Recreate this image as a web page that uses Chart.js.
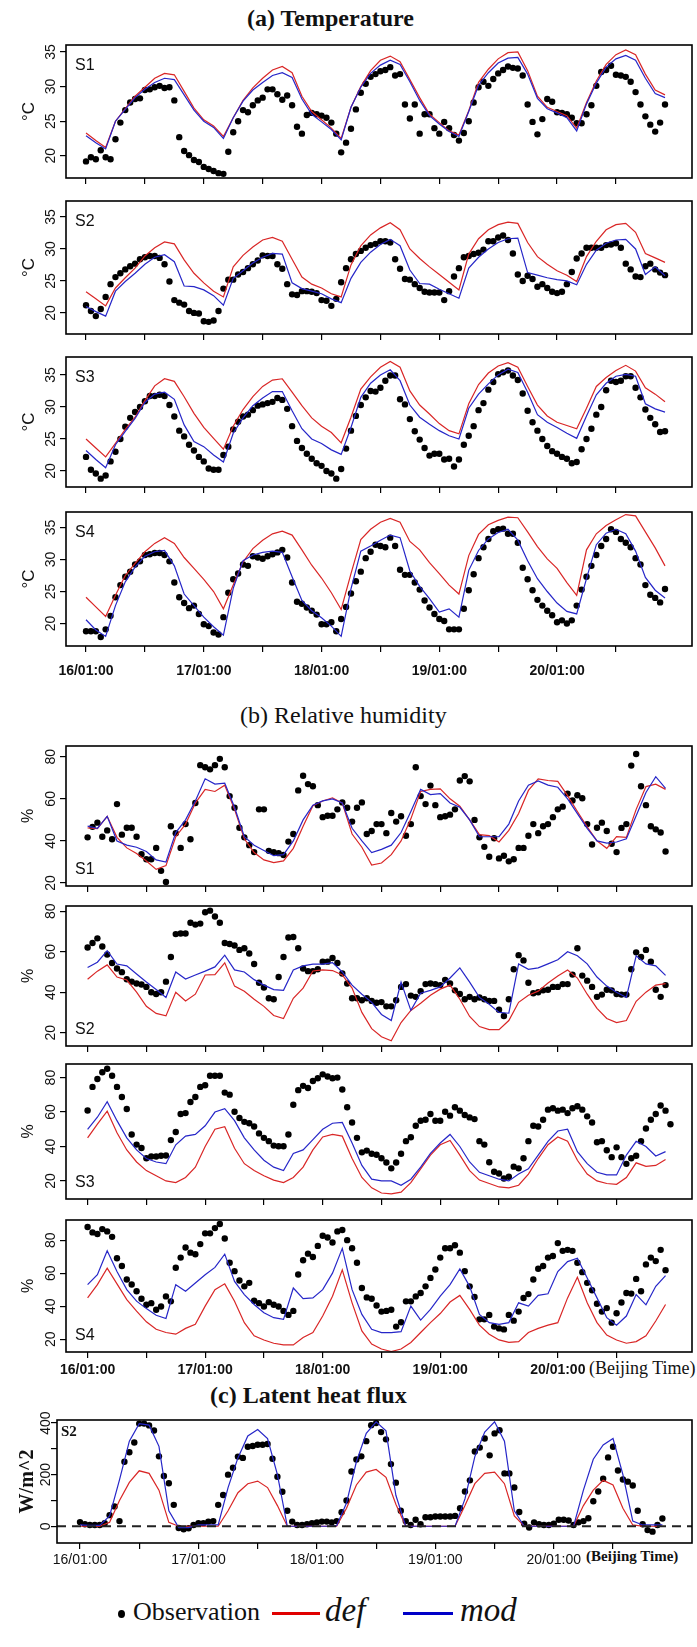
<!DOCTYPE html>
<html>
<head>
<meta charset="utf-8">
<script src="https://cdn.jsdelivr.net/npm/chart.js@4.4.0/dist/chart.umd.min.js"></script>
<style>
body { margin: 0; background: #fff; }
#page { position: relative; width: 697px; height: 1647px; background: #fff; overflow: hidden; }
#page canvas { position: absolute; left: 0; }
.title { position: absolute; font-family: "Liberation Serif", "Times New Roman", serif; color: #111; white-space: nowrap; }
.note { position: absolute; font-family: "Liberation Serif", "Times New Roman", serif; color: #111; white-space: nowrap; }
.lg { position: absolute; font-family: "Liberation Serif", "Times New Roman", serif; color: #111; white-space: nowrap; }
</style>
</head>
<body>
<div id="page">
  <div class="title" style="left:247px;top:5px;font-size:24px;font-weight:bold">(a) Temperature</div>
  <div class="title" style="left:240px;top:702px;font-size:24px">(b) Relative humidity</div>
  <div class="title" style="left:210px;top:1382px;font-size:24px;font-weight:bold">(c) Latent heat flux</div>
  <div class="note" style="left:589px;top:1358px;font-size:18px">(Beijing Time)</div>
  <div class="note" style="left:586px;top:1548px;font-size:15px;font-weight:bold">(Beijing Time)</div>

  <div class="lg" style="left:118px;top:1610px;width:7px;height:8px;border-radius:50%;background:#000"></div>
  <div class="lg" style="left:133px;top:1597px;font-size:26px">Observation</div>
  <div class="lg" style="left:272px;top:1612px;width:48px;height:3px;background:#e00000"></div>
  <div class="lg" style="left:325px;top:1592px;font-size:33px;font-style:italic">def</div>
  <div class="lg" style="left:403px;top:1612px;width:50px;height:3px;background:#0000c8"></div>
  <div class="lg" style="left:460px;top:1592px;font-size:33px;font-style:italic">mod</div>
</div>
<script>
// time axis: hours after 16/01:00, obs hourly, model lines every 2 h
const X_TICKS = [0, 12, 24, 36, 48, 60, 72, 84, 96, 108];
const X_LABEL_HOURS = [0, 24, 48, 72, 96];
const X_LABELS = ['16/01:00', '17/01:00', '18/01:00', '19/01:00', '20/01:00'];

const T_TICKS = [20, 25, 30, 35];
const RH_TICKS = [20, 40, 60, 80];
const LH_TICKS = [0, 100, 200, 300, 400];
const LH_TICK_LABELS = [0, 200, 400];

// (a) temperature
const T1_OBS = [19.2,19.8,19.5,20.8,19.8,19.5,22.4,24.8,26.6,27.7,28.2,28.3,29.5,29.6,29.9,30.1,29.8,29.9,28.0,22.7,20.7,20.1,19.4,19.1,18.4,18.1,17.8,17.5,17.4,
  20.6,23.4,25.0,26.6,26.3,27.3,28.0,28.4,29.6,29.6,28.9,28.1,28.7,27.3,24.2,23.2,25.9,26.2,26.0,25.8,25.5,24.8,23.2,
  20.5,21.9,23.9,26.7,29.1,30.4,31.4,31.8,32.2,32.4,32.8,31.6,31.8,27.4,25.4,27.4,23.2,26.0,26.0,24.0,23.2,24.9,24.0,23.0,22.2,23.3,25.0,27.7,29.9,30.7,30.1,31.1,31.9,32.4,32.9,32.7,32.6,31.6,27.4,24.9,23.1,25.3,28.2,27.8,26.3,26.2,26.0,25.5,24.7,24.7,26.0,27.3,30.1,32.1,32.4,33.0,31.7,31.6,31.4,30.7,29.2,27.4,25.7,24.5,23.5,24.8,27.4];
const T1_DEF = [23.3,22.2,21.2,25.0,26.8,28.6,29.9,31.2,31.9,31.7,29.3,26.9,25.2,24.3,22.8,25.5,28.0,29.8,31.2,32.4,32.9,32.0,28.6,26.4,25.2,24.0,22.5,27.0,30.0,32.3,33.8,34.4,33.6,31.0,28.4,26.0,24.8,23.6,23.0,26.5,30.6,32.5,34.0,34.9,35.0,32.3,28.6,27.0,26.4,25.8,24.0,27.7,30.8,33.2,34.6,35.3,34.6,31.8,29.5,28.8];
const T1_MOD = [22.9,21.9,21.0,25.0,26.7,28.4,29.6,30.6,31.2,31.0,28.8,26.6,25.0,24.1,22.5,25.5,27.9,29.5,30.6,31.6,32.0,31.3,28.2,26.0,24.9,23.8,22.3,27.0,29.9,31.9,33.1,33.8,33.2,30.7,28.0,25.8,24.6,23.5,22.8,26.4,30.2,32.0,33.4,34.1,34.2,31.8,28.3,26.8,26.2,25.5,23.6,27.5,30.5,32.8,34.0,34.5,33.8,31.2,29.0,28.4];

const T2_OBS = [21.2,20.3,19.5,20.6,22.5,24.5,25.6,26.2,26.8,27.3,27.7,28.4,28.7,28.9,28.9,28.6,27.6,24.9,22.0,21.6,21.3,20.3,20.0,19.9,18.7,18.6,18.8,20.3,23.8,25.2,
  25.2,26.0,26.4,27.0,27.6,28.2,29.0,28.9,28.9,27.6,26.9,24.5,22.9,22.8,23.4,23.4,23.3,23.1,22.0,21.9,21.1,22.2,24.8,27.0,28.4,29.2,29.7,30.2,30.6,30.8,
  31.2,31.2,31.0,28.4,26.9,25.3,25.2,24.5,23.9,23.3,23.2,23.2,23.2,22.0,23.4,25.7,27.0,28.7,28.9,29.2,29.4,29.9,31.2,31.2,31.8,32.1,31.4,29.3,26.0,25.0,
  25.8,25.3,24.1,24.5,23.9,23.3,23.1,23.3,24.5,26.4,28.5,29.3,30.2,30.2,30.2,30.2,30.6,30.7,30.9,30.2,27.7,26.8,25.7,25.6,27.3,27.7,26.8,26.3,25.9];
const T2_DEF = [23.3,22.2,21.1,23.9,25.5,27.0,28.9,30.2,31.1,30.8,28.3,26.2,24.7,23.4,22.5,27.2,29.0,30.3,31.4,31.8,31.2,28.4,25.6,24.5,23.9,23.0,22.5,27.5,30.5,32.2,33.3,34.1,33.0,30.0,28.5,27.2,26.0,24.8,23.6,29.2,31.6,33.0,33.8,34.2,34.0,31.0,28.8,27.6,26.6,25.9,24.9,28.8,31.2,33.0,33.8,34.0,32.6,29.3,28.6,27.9];
const T2_MOD = [21.0,20.2,19.5,23.4,24.9,26.2,27.6,28.7,29.1,28.0,24.2,24.1,23.6,22.7,21.2,25.4,26.6,27.8,28.7,29.3,29.2,24.7,23.8,23.4,23.0,22.2,21.6,25.4,27.9,29.5,30.7,31.5,30.5,26.7,24.6,24.5,23.7,23.0,22.3,27.0,28.7,30.0,31.0,31.6,31.7,26.3,25.9,25.5,25.2,25.0,24.4,27.6,29.8,30.9,31.4,31.5,30.0,26.0,27.2,25.8];

const T3_OBS = [22.2,20.2,19.6,18.8,19.3,21.5,23.0,25.0,26.9,28.3,29.2,30.0,30.9,31.7,31.7,31.9,31.7,30.3,28.5,26.3,25.4,24.1,23.2,22.2,21.5,20.4,20.2,20.2,22.5,23.8,
  26.5,27.7,28.5,28.8,29.5,30.2,30.4,30.6,30.8,31.4,31.1,29.7,27.0,24.7,23.6,22.7,21.9,21.2,20.8,20.0,19.6,18.8,20.3,23.5,26.3,28.6,30.3,31.5,32.5,32.4,
  33.0,34.1,34.9,34.9,31.2,30.4,28.1,26.2,24.9,23.6,22.4,22.7,22.7,21.8,21.9,20.7,21.8,24.1,25.5,27.0,29.5,30.6,32.7,33.9,35.1,35.4,35.7,34.9,34.2,32.1,
  29.4,27.6,26.3,25.0,23.9,23.1,22.7,22.2,21.9,21.2,21.4,23.4,25.0,26.6,28.8,30.0,32.6,34.1,33.9,34.1,34.8,34.8,33.0,31.5,29.6,28.3,27.3,26.1,26.2];
const T3_DEF = [25.0,23.6,22.2,24.3,26.5,28.4,31.0,33.3,34.4,34.0,31.6,29.0,26.8,25.1,23.4,27.0,29.6,31.6,33.2,34.2,34.4,32.3,30.2,28.3,27.0,26.0,24.4,28.4,32.8,34.7,36.2,37.1,36.2,32.5,30.3,28.9,27.4,26.3,25.8,30.5,33.5,35.3,36.4,36.9,36.2,33.2,30.3,28.6,27.6,27.1,26.6,29.8,33.2,34.6,35.7,36.5,35.6,33.0,32.0,30.8];
const T3_MOD = [23.2,21.8,20.5,24.1,26.2,28.2,30.7,32.0,32.3,31.2,27.2,24.6,23.8,22.5,21.4,25.9,28.3,30.2,31.4,32.4,32.4,29.4,26.6,25.0,24.3,23.3,22.6,26.8,31.5,33.7,35.0,35.8,34.1,30.3,28.4,27.3,26.3,25.5,25.0,29.8,32.0,33.6,35.0,35.9,35.4,32.3,28.8,27.6,26.8,25.9,25.1,28.6,31.9,33.7,34.8,35.1,34.8,30.5,29.7,29.2];

const T4_OBS = [18.8,18.8,18.8,17.9,19.1,21.2,24.1,26.0,27.3,28.1,29.2,29.7,30.7,30.8,31.0,31.0,30.7,29.7,26.4,24.1,23.2,22.4,22.8,21.5,19.9,19.6,18.6,18.3,21.0,24.8,
  26.9,27.8,29.2,29.0,30.5,30.3,30.1,30.5,30.8,31.1,31.5,30.3,26.4,23.4,23.1,22.5,22.0,21.4,19.9,19.9,20.2,18.8,20.7,22.6,24.7,26.6,28.1,30.2,31.2,32.3,
  32.1,31.9,33.4,32.1,28.4,27.6,27.6,26.4,25.3,23.6,22.5,21.5,20.7,20.4,19.1,19.1,19.1,22.3,25.2,27.7,30.2,31.9,33.2,34.4,34.7,34.8,34.0,34.0,32.6,28.7,
  26.9,25.2,23.7,22.8,22.0,21.3,20.2,20.5,20.0,20.5,22.8,25.3,27.3,29.0,30.7,32.1,33.2,34.7,34.3,33.2,32.6,31.9,30.2,29.2,26.0,24.5,24.0,23.3,25.4];
const T4_DEF = [24.1,22.6,21.1,24.4,27.5,29.4,31.2,32.5,33.4,32.5,30.3,28.6,26.9,25.0,22.3,26.0,29.6,31.7,33.0,34.0,34.4,33.8,31.5,29.1,27.1,24.8,22.2,27.8,33.1,34.7,35.8,36.4,35.8,32.8,31.5,29.5,27.8,26.0,24.6,30.6,33.9,35.4,36.1,36.6,36.5,34.3,32.0,30.1,28.6,26.4,24.4,31.5,34.0,35.3,36.2,37.0,36.8,34.3,31.8,29.0];
const T4_MOD = [20.6,19.0,18.0,22.8,26.5,28.8,30.5,31.2,31.4,29.0,24.6,22.8,21.0,19.5,18.2,25.5,29.8,30.7,31.1,31.3,31.1,27.3,23.6,22.0,20.9,19.6,18.0,25.4,31.3,32.1,33.0,33.8,33.4,28.2,25.8,23.9,21.8,22.3,21.0,28.3,31.4,33.2,34.2,34.7,33.0,29.8,27.0,25.0,23.2,21.9,21.5,27.0,32.3,34.1,34.7,34.0,31.3,27.2,25.2,24.0];

// (b) relative humidity
const RH1_OBS = [41.7,46.7,48.7,42.0,45.0,40.8,57.5,43.0,46.3,46.3,42.0,33.7,31.3,31.3,36.7,25.8,20.5,47.0,43.7,36.7,48.0,40.8,58.0,
  76,75,74,76,79,75,61.3,55.8,46.3,41.7,38.0,34.7,55.0,55.0,35.3,34.7,34.2,33.3,39.7,43.3,64,71,67,66,57,
  51.3,52.0,52.0,55.0,58.3,55.8,49.2,55.8,58.3,43.3,44.7,48.0,48.0,43.7,53.3,49.2,51.7,42.5,48.0,75.0,61.3,57.5,66.3,57.0,51.3,51.7,52.5,55.0,68.7,70.8,68.3,50.0,
  41.7,37.2,32.5,41.3,31.7,33.0,30.3,31.3,36.7,36.7,42.5,48.0,43.7,47.0,48.0,51.3,55.0,56.3,62.5,59.2,61.7,60.3,48.0,38.3,46.3,48.7,44.7,38.7,34.7,46.2,48.0,75.8,81.3,66.0,57.0,47.0,45.5,44.0,35.0];
const RH1_DEF = [46.2,45.8,51.7,41.7,36.7,34.0,30.5,26.5,28.3,42.0,48.0,58.0,64.5,63.5,66.5,55.0,41.0,34.5,31.0,29.7,30.5,36.5,47.0,56.7,59.0,60.5,58.0,43.3,37.0,28.5,29.5,33.5,40.0,50.5,63.5,64.5,64.7,60.0,56.5,50.0,43.0,42.5,39.5,45.0,53.0,64.0,69.5,68.7,68.3,61.5,54.0,46.7,40.0,36.5,42.0,41.7,55.0,65.8,67.0,64.5];
const RH1_MOD = [47.0,46.0,51.7,40.0,38.0,37.0,35.0,31.0,30.0,44.0,50.0,59.0,69.5,67.0,67.5,56.0,42.0,38.0,35.5,33.0,33.5,40.0,50.0,57.0,59.0,60.0,58.0,46.0,40.0,34.5,36.0,38.0,44.0,54.0,64.5,62.0,62.5,58.0,56.0,50.0,42.0,42.0,42.0,48.0,59.0,66.5,68.5,66.5,65.5,60.0,53.0,46.0,40.0,39.0,39.5,41.0,52.0,63.0,70.5,65.0];

const RH2_OBS = [62.1,64.3,66.6,62.6,58.6,54.4,51.7,49.9,46.4,45.2,44.3,43.8,42.6,40.0,39.1,40.0,45.2,57.4,68.7,69.0,69.0,74.3,73.4,73.9,79.5,80.3,77.4,74.3,64.3,63.8,
  63.1,60.9,61.7,59.1,53.9,44.7,42.3,37.0,36.5,47.5,57.4,67.0,67.3,61.7,51.7,50.4,50.4,51.3,55.1,55.1,56.9,54.4,49.2,44.3,37.0,37.0,36.0,37.0,35.7,34.8,
  35.1,33.0,33.0,36.0,42.6,44.0,38.3,37.7,40.5,44.0,44.3,44.0,43.5,46.1,44.3,40.9,39.1,36.5,37.7,36.5,37.4,36.5,35.7,35.7,31.3,28.2,36.5,51.3,58.3,55.7,
  44.7,39.5,40.0,40.9,41.2,42.6,42.6,44.0,44.0,48.7,61.7,48.2,45.7,42.6,37.7,38.8,41.2,40.9,39.1,38.8,38.8,51.3,59.7,57.4,60.9,55.1,41.2,37.7,43.5];
const RH2_DEF = [46.4,50.4,53.5,47.5,46.0,40.0,33.0,29.5,28.3,40.0,35.7,39.0,48.5,48.7,54.5,43.0,40.5,36.5,33.0,28.5,27.0,37.0,42.0,50.5,51.0,50.7,48.5,42.0,30.0,22.0,18.0,16.0,25.0,31.0,34.5,38.5,41.5,43.5,36.5,28.0,23.0,21.5,21.5,26.0,35.0,38.5,40.5,44.5,48.0,51.0,47.0,39.0,32.0,27.0,25.0,26.0,35.5,40.0,43.5,44.2];
const RH2_MOD = [52.2,54.8,60.5,53.9,53.0,49.0,45.0,41.3,37.4,50.0,46.5,48.5,50.4,52.5,58.3,51.0,50.0,46.2,43.5,41.3,40.9,51.0,53.0,53.9,53.9,54.6,50.0,43.5,39.0,35.0,29.0,26.0,45.0,31.0,39.5,40.9,42.6,47.0,52.0,45.0,37.4,34.0,30.0,29.6,54.0,51.3,52.0,54.0,56.0,60.0,58.0,54.0,47.5,43.0,40.0,37.4,58.0,54.0,53.0,48.3];

const RH3_OBS = [60.9,74.6,79.2,83.1,85.1,81.1,74.6,68.7,61.8,47.0,41.1,39.1,33.2,34.2,34.2,34.6,34.8,43.7,48.4,58.9,59.4,65.8,68.7,74.6,75.6,81.1,81.1,81.1,71.3,70.1,
  60.2,56.5,54.3,53.5,51.6,47.6,45.0,43.1,40.5,40.1,40.1,47.0,64.2,72.7,75.2,74.0,78.0,79.6,81.9,80.6,79.6,80.0,73.1,62.8,53.9,45.0,36.6,37.6,35.8,35.2,
  33.2,30.7,27.3,30.7,35.8,43.1,45.4,52.0,54.9,55.5,58.9,54.9,54.9,60.2,57.9,62.8,60.8,58.3,56.9,55.9,43.1,41.1,30.8,25.3,24.3,21.4,22.4,28.3,27.3,33.2,
  43.1,52.0,51.6,55.5,61.4,62.2,60.8,61.4,59.4,62.2,63.4,61.4,57.5,53.9,42.5,43.1,37.8,33.8,39.5,33.8,29.9,33.2,34.6,43.1,50.4,55.5,58.9,63.8,60.8,52.9];
const RH3_DEF = [45,53,60.5,48,38,31,26,23,20,19,22,28,40,50,51.5,39,30,26,23,20.5,19,22,28,38,45.5,47,46,33,22,16,13,12.5,13.5,19,27,35,41,43.5,35,26,20.5,18.5,16.5,16,17.5,24,33,41,45.5,43,32,24,20,18.5,18,22,30.5,28.5,29,32.5];
const RH3_MOD = [50,57,66,55,45,38,33,31,30,41,46,47,52,60,62,55,45,38,32,28,26,36,38,44,50,53.5,54,42,29,21,20,20,17.5,21,28,36,42,47,40,31,25,23,21,20,24,27,35,43,49,50,37,30,25,23.5,23.5,35,43,40,34.5,37];

const RH4_OBS = [88,84.7,83.7,86.7,85.3,82.0,69.0,64.3,56.1,53.1,49.0,44.5,40.8,41.8,37.8,39.8,45.9,42.9,63.3,69.4,75.5,72.4,71.4,77.6,84.1,84.1,87.3,89.8,81.0,66.3,
  61.2,55.5,52.0,54.1,43.3,41.8,39.8,42.4,40.8,39.8,37.1,34.7,37.1,59.2,67.8,71.8,69.8,76.5,82.7,81.6,78.6,85.3,86.1,80.0,75.1,66.3,51.0,45.3,44.5,40.4,
  36.7,37.1,37.8,27.6,30.2,42.9,42.9,45.9,48.0,52.0,57.1,62.2,
  69.4,75.1,75.1,76.9,72.4,61.2,52.0,45.5,32.0,32.0,34.7,27.6,26.5,25.9,34.7,31.2,36.7,44.9,47.3,56.1,62.7,64.3,69.4,70.4,78.2,73.5,74.1,73.5,66.3,60.6,
  54.1,49.6,41.4,36.7,38.8,30.0,35.7,42.2,48.0,47.6,56.5,49.0,65.3,69.4,67.3,74.1,61.8];
const RH4_DEF = [45.0,53.0,63.0,53.5,44.0,37.0,30.5,26.0,24.0,23.0,26.5,29.0,40.0,50.0,53.5,43.0,30.0,22.0,19.5,17.5,16.5,16.5,21.0,24.0,34.0,46.0,62.0,42.0,25.0,17.0,14.0,12.5,14.0,18.0,24.0,30.0,35.5,42.5,46.5,38.0,28.5,23.0,19.5,18.0,18.5,24.0,26.5,28.5,30.0,45.0,57.5,42.0,30.0,22.5,19.5,17.5,18.5,22.0,31.0,41.0];
const RH4_MOD = [53,59,73.5,61,50,43,38.5,34.5,32.5,53,49,54,59,63.5,71.5,55,47,41,36,33,32,51,44.5,45,50,60,75,50,35,26,24,24,24.5,40,31.5,38,46,53,62.5,52,35,30,29,30,42,40,46.5,47.5,61,67,69,57,45,33,28.5,34,47,40.8,52,58.5];

// (c) latent heat flux, W/m^2
const LH_OBS = [16,8,5,5,5,12,43,77,20,250,287,325,398,398,391,371,271,195,167,83,
  -7,-12,-8,5,12,12,18,20,
  83,121,200,227,270,265,308,311,316,316,319,262,192,134,60,
  18,5,5,8,12,15,18,18,15,
  20,54,100,212,259,271,330,392,400,365,337,241,169,60,20,5,25,8,35,35,38,38,38,38,
  40,70,135,178,290,305,340,275,360,372,205,205,150,55,10,
  -5,15,8,5,5,10,25,25,22,
  5,15,20,31,97,135,184,267,308,216,181,173,158,60,8,-15,-21,5,30];
const LH_DEF = [0,0,0,15,100,170,215,205,140,15,0,0,0,0,0,60,130,165,175,150,80,0,0,0,0,0,0,70,160,210,220,190,85,0,0,0,0,0,0,80,165,205,210,165,40,0,0,0,0,0,0,80,140,178,160,70,5,0,0,0];
const LH_MOD = [5,3,3,40,180,330,398,392,310,60,-5,-5,5,5,5,150,265,350,375,340,200,0,0,0,0,0,2,90,250,360,405,370,120,0,0,0,0,0,0,106,270,365,405,330,60,0,0,0,0,0,0,140,260,315,340,200,20,5,5,5];

const RED = '#d92626';
const BLUE = '#2626c8';
const SANS = '"Liberation Sans", Arial, Helvetica, sans-serif';
const SERIF = '"Liberation Serif", "Times New Roman", serif';

const tPanel = { left: 66, xmin: -4.08, xmax: 123.5, yTicks: T_TICKS, yLabels: T_TICKS, yTitle: '\u00B0C',
  labelX: 51, titleX: 29, tickFont: '14px ' + SANS, titleFont: '17px ' + SANS, tagFont: '16px ' + SANS, tagTop: true, tagDx: 9, tagDy: 21 };
const rhPanel = { left: 66, xmin: -4.41, xmax: 123.4, yTicks: RH_TICKS, yLabels: RH_TICKS, yTitle: '%',
  labelX: 51, titleX: 29, tickFont: '14px ' + SANS, titleFont: '16px ' + SANS, tagFont: '16px ' + SANS, tagTop: false, tagDx: 9, tagDy: 16 };

const panels = [
  Object.assign({}, tPanel, { top: 45, bottom: 178, ymin: 16.8, ymax: 36.0, tag: 'S1', obs: T1_OBS, def: T1_DEF, mod: T1_MOD }),
  Object.assign({}, tPanel, { top: 201, bottom: 334, ymin: 16.7, ymax: 37.5, tag: 'S2', obs: T2_OBS, def: T2_DEF, mod: T2_MOD }),
  Object.assign({}, tPanel, { top: 357, bottom: 487, ymin: 17.5, ymax: 37.8, tag: 'S3', obs: T3_OBS, def: T3_DEF, mod: T3_MOD }),
  Object.assign({}, tPanel, { top: 512, bottom: 646, ymin: 16.5, ymax: 37.4, tag: 'S4', obs: T4_OBS, def: T4_DEF, mod: T4_MOD,
    xLabels: true, xFont: { family: SANS, size: 14, weight: 'bold' }, xPad: 11 }),
  Object.assign({}, rhPanel, { top: 746, bottom: 886, ymin: 18.6, ymax: 85.1, tag: 'S1', obs: RH1_OBS, def: RH1_DEF, mod: RH1_MOD }),
  Object.assign({}, rhPanel, { top: 906, bottom: 1046, ymin: 13.4, ymax: 82.6, tag: 'S2', obs: RH2_OBS, def: RH2_DEF, mod: RH2_MOD }),
  Object.assign({}, rhPanel, { top: 1064, bottom: 1199, ymin: 9.5, ymax: 87.9, tag: 'S3', obs: RH3_OBS, def: RH3_DEF, mod: RH3_MOD }),
  Object.assign({}, rhPanel, { top: 1220, bottom: 1352, ymin: 12.2, ymax: 92.2, tag: 'S4', obs: RH4_OBS, def: RH4_DEF, mod: RH4_MOD,
    xLabels: true, xFont: { family: SANS, size: 14, weight: 'bold' }, xPad: 4 }),
  { top: 1420, bottom: 1543, left: 57, xmin: -4.66, xmax: 124.0, ymin: -65, ymax: 412, yTicks: LH_TICKS, yLabels: LH_TICK_LABELS,
    yTitle: 'W/m^2', labelX: 46, titleX: 28, tickFont: '14px ' + SANS, titleFont: 'bold 20px ' + SERIF,
    tag: 'S2', tagFont: 'bold 15px ' + SERIF, tagTop: true, tagDx: 4, tagDy: 12, zeroLine: true,
    obs: LH_OBS, def: LH_DEF, mod: LH_MOD, xLabels: true, xFont: { family: SANS, size: 14 }, xPad: 3 }
];

function xLabel(v) {
  const i = X_LABEL_HOURS.indexOf(v);
  return i >= 0 ? X_LABELS[i] : '';
}

function decoPlugin(p) {
  return {
    id: 'deco',
    afterDraw(chart) {
      const ctx = chart.ctx;
      const a = chart.chartArea;
      const ys = chart.scales.y;
      ctx.save();
      if (p.zeroLine) {
        const y0 = ys.getPixelForValue(0);
        ctx.setLineDash([9, 6]);
        ctx.lineWidth = 2;
        ctx.strokeStyle = '#222';
        ctx.beginPath();
        ctx.moveTo(a.left, y0);
        ctx.lineTo(a.right, y0);
        ctx.stroke();
        ctx.setLineDash([]);
      }
      ctx.strokeStyle = '#000';
      ctx.lineWidth = 1.6;
      ctx.strokeRect(a.left, a.top, a.right - a.left, a.bottom - a.top);

      ctx.fillStyle = '#111';
      ctx.textAlign = 'center';
      ctx.textBaseline = 'middle';
      ctx.font = p.tickFont;
      p.yLabels.forEach(v => {
        ctx.save();
        ctx.translate(p.labelX, ys.getPixelForValue(v));
        ctx.rotate(-Math.PI / 2);
        ctx.fillText(String(v), 0, 0);
        ctx.restore();
      });
      ctx.font = p.titleFont;
      ctx.save();
      ctx.translate(p.titleX, (a.top + a.bottom) / 2);
      ctx.rotate(-Math.PI / 2);
      ctx.fillText(p.yTitle, 0, 0);
      ctx.restore();

      ctx.font = p.tagFont;
      ctx.textAlign = 'left';
      ctx.fillText(p.tag, a.left + p.tagDx, p.tagTop ? a.top + p.tagDy : a.bottom - p.tagDy);
      ctx.restore();
    }
  };
}

function makePanel(p) {
  const page = document.getElementById('page');
  const padTop = 14;
  const bottomH = p.xLabels ? 34 : 12;
  const h = p.bottom - p.top + padTop + bottomH;
  const cv = document.createElement('canvas');
  cv.width = 697;
  cv.height = h;
  cv.style.width = '697px';
  cv.style.height = h + 'px';
  cv.style.top = (p.top - padTop) + 'px';
  page.appendChild(cv);

  const hourly = arr => arr.map((v, i) => ({ x: i, y: v }));
  const twoHourly = arr => arr.map((v, i) => ({ x: i * 2, y: v }));

  new Chart(cv.getContext('2d'), {
    type: 'line',
    data: {
      datasets: [
        { label: 'mod', data: twoHourly(p.mod), borderColor: BLUE, borderWidth: 1.2, pointRadius: 0, tension: 0, order: 1 },
        { label: 'def', data: twoHourly(p.def), borderColor: RED, borderWidth: 1.2, pointRadius: 0, tension: 0, order: 2 },
        { label: 'Observation', data: hourly(p.obs), showLine: false, pointRadius: 3.2, pointBackgroundColor: '#000',
          pointBorderWidth: 0, borderColor: '#000', order: 3 }
      ]
    },
    options: {
      responsive: false,
      animation: false,
      devicePixelRatio: 1,
      layout: { padding: { top: padTop, right: 5, bottom: 0, left: 0 } },
      plugins: { legend: { display: false }, tooltip: { enabled: false } },
      scales: {
        x: {
          type: 'linear', min: p.xmin, max: p.xmax,
          afterBuildTicks: s => { s.ticks = X_TICKS.map(v => ({ value: v })); },
          afterFit: s => { s.height = bottomH; },
          border: { display: false },
          grid: { drawOnChartArea: false, drawTicks: true, tickLength: 6, color: '#000', lineWidth: 1.2 },
          ticks: { display: !!p.xLabels, autoSkip: false, maxRotation: 0, minRotation: 0, padding: p.xPad || 0,
            color: '#111', font: p.xFont, callback: v => xLabel(v) }
        },
        y: {
          type: 'linear', min: p.ymin, max: p.ymax,
          afterBuildTicks: s => { s.ticks = p.yTicks.map(v => ({ value: v })); },
          afterFit: s => { s.width = p.left; },
          border: { display: false },
          grid: { drawOnChartArea: false, drawTicks: true, tickLength: 6, color: '#000', lineWidth: 1.2 },
          ticks: { display: false }
        }
      }
    },
    plugins: [decoPlugin(p)]
  });
}

panels.forEach(makePanel);
</script>
</body>
</html>
